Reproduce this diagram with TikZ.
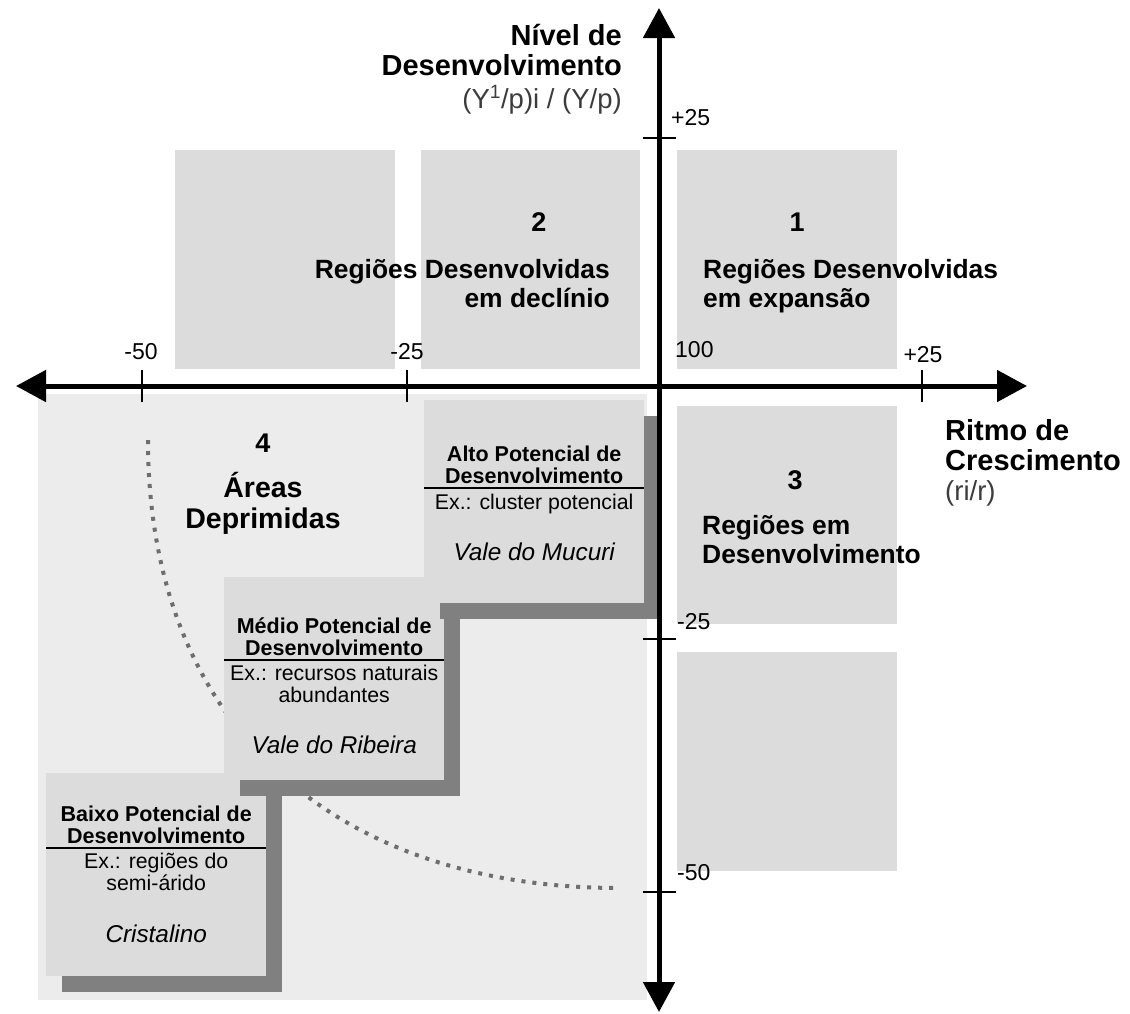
\documentclass[tikz,border=0pt]{standalone}
\usepackage{fontspec}
\setmainfont{Liberation Sans}
\usetikzlibrary{arrows.meta,positioning,shadows}
\definecolor{boxgray}{HTML}{DCDCDC}
\definecolor{bglight}{HTML}{ECECEC}
\definecolor{shadowgray}{HTML}{808080}
\definecolor{dotgray}{HTML}{6E6E6E}
\definecolor{unitgray}{HTML}{3C3C3C}
\begin{document}
\begin{tikzpicture}[x=1pt,y=-1pt,>={Triangle[length=30pt,width=31pt]},
	quad/.style={fill=boxgray},
	axis/.style={line width=5pt,<->},
	tick/.style={line width=2.5pt},
	trend/.style={dotgray,line width=4pt,dash pattern=on 4pt off 7pt},
	stairbox/.style={fill=boxgray,minimum width=220pt,minimum height=203pt,anchor=north west,inner sep=0pt,
		drop shadow={shadow xshift=15.5pt,shadow yshift=-15.5pt,fill=shadowgray,opacity=1}},
	boxrule/.style={line width=2pt},
	quadnum/.style={font=\bfseries\fontsize{27}{29}\selectfont,inner sep=0pt},
	quadlbl/.style={font=\bfseries\fontsize{26.4}{29}\selectfont,inner sep=0pt},
	axtitle/.style={font=\bfseries\fontsize{29}{30}\selectfont,inner sep=0pt},
	axnum/.style={font=\fontsize{23}{26}\selectfont,inner sep=0pt},
	axunit/.style={font=\fontsize{27.5}{30}\selectfont,text=unitgray,inner sep=0pt},
	boxhead/.style={font=\bfseries\fontsize{21.5}{22}\selectfont,align=center,inner sep=0pt},
	boxtext/.style={font=\fontsize{21.3}{22}\selectfont,align=center,inner sep=0pt},
	boxname/.style={font=\itshape\fontsize{24.3}{26}\selectfont,inner sep=0pt}]
	\useasboundingbox (0,0) rectangle (1130,1013);
	% quadrant 4 background and the grey fields
	\fill[bglight] (38,394) rectangle (647,1000);
	\fill[quad] (175,150) rectangle (395,369);
	\fill[quad] (421,150) rectangle (640,369);
	\fill[quad] (677,150) rectangle (897,369);
	\fill[quad] (677,406) rectangle (897,624);
	\fill[quad] (677,652) rectangle (897,871);
	% dotted trend
	\draw[trend] (148,440) .. controls (148,718) and (327,888) .. (620,888);
	% baixo potencial
	\node[stairbox] (baixo) at (46,773) {};
	\coordinate (baixoR) at ([yshift=-75pt]baixo.north);
	\draw[boxrule] (baixoR -| baixo.west) -- (baixoR -| baixo.east);
	\node[boxhead,anchor=base] (baixoH) at ([yshift=5pt]baixoR) {Baixo Potencial de\\Desenvolvimento};
	\node[boxtext,anchor=base] (baixoE) at ([yshift=-42pt]baixoR) {Ex.: regiões do\\semi-árido};
	\node[boxname,anchor=base] (baixoN) at ([yshift=-94pt]baixoR) {Cristalino};
	% medio potencial
	\node[stairbox] (medio) at (224,577) {};
	\coordinate (medioR) at ([yshift=-83pt]medio.north);
	\draw[boxrule] (medioR -| medio.west) -- (medioR -| medio.east);
	\node[boxhead,anchor=base] (medioH) at ([yshift=5pt]medioR) {Médio Potencial de\\Desenvolvimento};
	\node[boxtext,anchor=base] (medioE) at ([yshift=-42pt]medioR) {Ex.: recursos naturais\\abundantes};
	\node[boxname,anchor=base] (medioN) at ([yshift=-93pt]medioR) {Vale do Ribeira};
	% alto potencial
	\node[stairbox] (alto) at (424,400) {};
	\coordinate (altoR) at ([yshift=-88pt]alto.north);
	\draw[boxrule] (altoR -| alto.west) -- (altoR -| alto.east);
	\node[boxhead,anchor=base] (altoH) at ([yshift=5pt]altoR) {Alto Potencial de\\Desenvolvimento};
	\node[boxtext,anchor=base] (altoE) at ([yshift=-21pt]altoR) {Ex.: cluster potencial};
	\node[boxname,anchor=base] (altoN) at ([yshift=-72pt]altoR) {Vale do Mucuri};
	% axes
	\coordinate (xmin) at (16,386);
	\coordinate (xmax) at (1027,386);
	\coordinate (ymax) at (659,8);
	\coordinate (ymin) at (659,1012);
	\draw[axis] (xmin) -- (xmax);
	\draw[axis] (ymin) -- (ymax);
	\foreach \x in {142,407,922} \draw[tick] (\x,370) -- (\x,402);
	\foreach \y in {138,639,892} \draw[tick] (643,\y) -- (676,\y);
	\node[axnum] (m50x) at (141,352) {-50};
	\node[axnum] (m25x) at (407,352) {-25};
	\node[axnum] (p25x) at (923,355) {+25};
	\node[axnum,anchor=west] (c100) at (675,350) {100};
	\node[axnum,anchor=west] (p25y) at (671,118) {+25};
	\node[axnum,anchor=west] (m25y) at (677,622) {-25};
	\node[axnum,anchor=west] (m50y) at (677,873) {-50};
	% axis titles
	\node[axtitle,align=right,anchor=base east] (ytitle) at (622,75) {Nível de\\Desenvolvimento};
	\node[axunit,anchor=base east] (yunit) at (622,108) {(Y\textsuperscript{1}/p)i / (Y/p)};
	\node[axtitle,align=left,anchor=base west] (xtitle) at (945,470) {Ritmo de\\Crescimento};
	\node[axunit,anchor=base west] (xunit) at (945,500) {(ri/r)};
	% quadrant labels
	\node[quadnum] (n1) at (797,222) {1};
	\node[quadlbl,align=left,anchor=base west] (q1) at (703,307) {Regiões Desenvolvidas\\em expansão};
	\node[quadnum] (n2) at (539,222) {2};
	\node[quadlbl,align=right,anchor=base east] (q2) at (610,307) {Regiões Desenvolvidas\\em declínio};
	\node[quadnum] (n3) at (795,480) {3};
	\node[quadlbl,align=left,anchor=base west] (q3) at (702,563) {Regiões em\\Desenvolvimento};
	\node[quadnum] (n4) at (263,443) {4};
	\node[quadlbl,font=\bfseries\fontsize{28.5}{31}\selectfont,align=center,anchor=base] (q4) at (263,528) {Áreas\\Deprimidas};
\end{tikzpicture}
\end{document}
